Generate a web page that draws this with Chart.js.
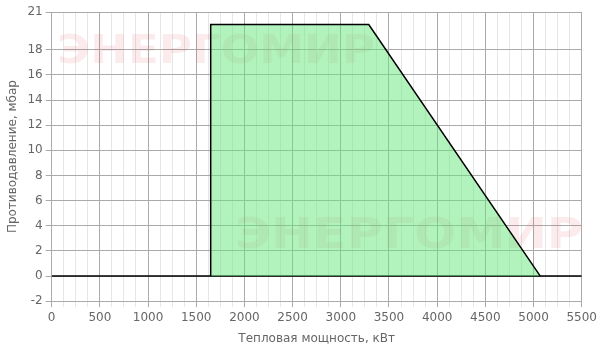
<!DOCTYPE html>
<html>
<head>
<meta charset="utf-8">
<script src="https://cdn.jsdelivr.net/npm/chart.js@4"></script>
<style>
  html, body { margin: 0; padding: 0; background: #fff; }
  #wrap { width: 600px; height: 350px; }
</style>
</head>
<body>
<div id="wrap"><canvas id="char_burner" width="600" height="350"></canvas></div>
<script>
// working field of the burner
var powerKw = [1650, 1650, 3290, 5070];
var pressureMbar = [0, 20, 20, 0];
// zero line
var zeroX = [0, 5500];
var zeroY = [0, 0];
// axis ticks
var xTickValues = [];
for (var v = 0; v <= 5500; v += 125) xTickValues.push(v);
var yTickValues = [-2, 0, 2, 4, 6, 8, 10, 12, 14, 16, 18, 21];

var font = "'DejaVu Sans', sans-serif";

function stretchText(ctx, text, x, y, width) {
    var w = ctx.measureText(text).width;
    ctx.save();
    ctx.translate(x, y);
    ctx.scale(width / w, 1);
    ctx.fillText(text, 0, 0);
    ctx.restore();
}

var watermark = {
    id: "watermark",
    beforeDatasetsDraw: function (chart) {
        var ctx = chart.ctx;
        ctx.save();
        ctx.fillStyle = "rgba(225, 60, 80, 0.1)";
        ctx.textBaseline = "alphabetic";
        ctx.font = "bold 39px " + font;
        stretchText(ctx, "ЭНЕРГОМИР", 57, 63, 318);
        ctx.font = "bold 43px " + font;
        stretchText(ctx, "ЭНЕРГОМИР", 235, 248, 348);
        ctx.restore();
    },
};

var chart = document.getElementById("char_burner");
var ctx = chart.getContext("2d");
new Chart(ctx, {
    type: "scatter",
    data: {
        datasets: [
            {
                data: powerKw.map(function (x, i) { return { x: x, y: pressureMbar[i] }; }),
                showLine: true,
                fill: "origin",
                backgroundColor: "rgba(101, 229, 121, 0.5)",
                borderColor: "#000",
                borderWidth: 1.5,
                pointRadius: 0,
                tension: 0,
            },
            {
                data: zeroX.map(function (x, i) { return { x: x, y: zeroY[i] }; }),
                showLine: true,
                fill: false,
                borderColor: "#000",
                borderWidth: 1.5,
                pointRadius: 0,
            },
        ],
    },
    options: {
        responsive: false,
        animation: false,
        layout: { padding: { top: 12, right: 18, bottom: 4, left: 6 } },
        plugins: {
            legend: { display: false },
            tooltip: { enabled: false },
        },
        scales: {
            x: {
                type: "linear",
                min: 0,
                max: 5500,
                afterBuildTicks: function (axis) {
                    axis.ticks = xTickValues.map(function (v) { return { value: v }; });
                },
                ticks: {
                    autoSkip: false,
                    maxRotation: 0,
                    color: "#666",
                    font: { family: font, size: 12 },
                    callback: function (value) {
                        return value % 500 === 0 ? String(value) : "";
                    },
                },
                grid: {
                    color: function (c) {
                        return c.tick && c.tick.value % 500 === 0 ? "#aaa" : "#e6e6e6";
                    },
                    tickColor: function (c) {
                        return c.tick && c.tick.value % 500 === 0 ? "#aaa" : "#e6e6e6";
                    },
                    tickLength: 6,
                },
                border: { display: false },
                title: {
                    display: true,
                    text: "Тепловая мощность, кВт",
                    color: "#666",
                    font: { family: font, size: 12 },
                    padding: { top: 4, bottom: 0 },
                },
            },
            y: {
                type: "linear",
                min: -2,
                max: 21,
                afterBuildTicks: function (axis) {
                    axis.ticks = yTickValues.map(function (v) { return { value: v }; });
                },
                ticks: {
                    autoSkip: false,
                    color: "#666",
                    font: { family: font, size: 12 },
                },
                grid: {
                    color: "#aaa",
                    tickColor: "#aaa",
                    tickLength: 6,
                },
                border: { display: false },
                title: {
                    display: true,
                    text: "Противодавление, мбар",
                    color: "#666",
                    font: { family: font, size: 12 },
                    padding: { top: 0, bottom: 4 },
                },
            },
        },
    },
    plugins: [watermark],
});
</script>
</body>
</html>
